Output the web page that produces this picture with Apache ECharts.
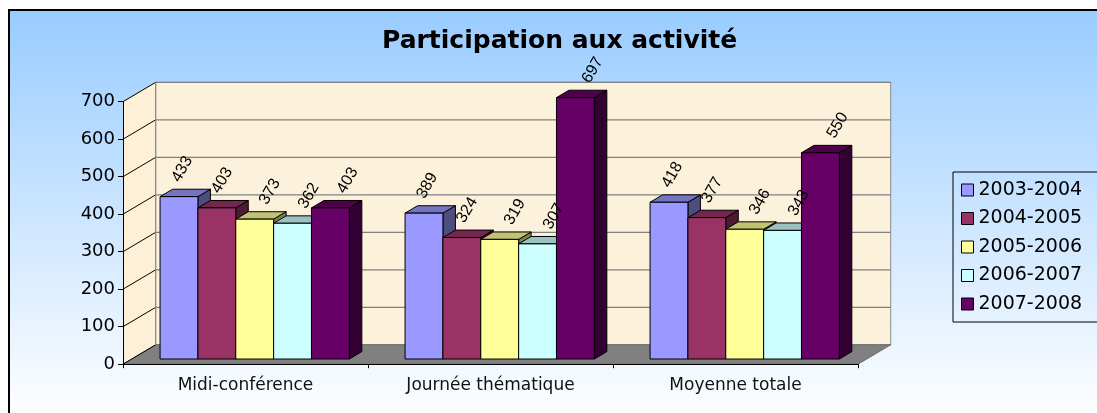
<!DOCTYPE html>
<html><head><meta charset="utf-8">
<script src="https://cdn.jsdelivr.net/npm/echarts@6/dist/echarts.min.js"></script>
<style>
html,body{margin:0;padding:0;background:#fff;width:1097px;height:413px;overflow:hidden;position:relative}
#frame{position:absolute;left:8px;top:9px;width:1300px;height:500px;border-top:2px solid #000;border-left:2px solid #000;background:linear-gradient(to bottom,#99CCFF 0px,#ffffff 410px)}
#chart{position:absolute;left:0;top:0;width:1097px;height:413px}
</style></head>
<body><div id="frame"></div><div id="chart"></div>
<script>
// ---- data ----
const categories = ['Midi-conférence', 'Journée thématique', 'Moyenne totale'];
const seriesNames = ['2003-2004', '2004-2005', '2005-2006', '2006-2007', '2007-2008'];
const s2003 = [433, 389, 418];
const s2004 = [403, 324, 377];
const s2005 = [373, 319, 346];
const s2006 = [362, 307, 343];
const s2007 = [403, 697, 550];
const yTicks = [0, 100, 200, 300, 400, 500, 600, 700];
const titleText = 'Participation aux activité';

// ---- style / layout constants ----
const colors = ['#9999FF', '#993366', '#FFFF99', '#CCFFFF', '#660066'];
const FONT = 'DejaVu Sans';
const WALL_DX = 32.7, WALL_DY = -19.4;   // depth of the wall box
const PLANE_DX = 9.2, PLANE_DY = -5.2;   // plane the bars stand on
const BAR_DX = 12.5, BAR_DY = -7.4;      // depth of each bar
const BAR_FRAC = 0.1545;                  // bar width as fraction of band
const GROUP_FRAC = BAR_FRAC * 5;
const LABEL_DX = [-3, -1, 9, 10, 11];
const LABEL_GAP = 20;

function shade(hex, f) {
  const n = parseInt(hex.slice(1), 16);
  const r = Math.round(((n >> 16) & 255) * f), g = Math.round(((n >> 8) & 255) * f), b = Math.round((n & 255) * f);
  return 'rgb(' + r + ',' + g + ',' + b + ')';
}

const allSeries = [s2003, s2004, s2005, s2006, s2007];

const wallSeries = {
  type: 'custom', coordinateSystem: 'cartesian2d', silent: true, data: [[0, 0]],
  renderItem: function (params, api) {
    const cs = params.coordSys;
    const xL = cs.x, xR = cs.x + cs.width;
    const y0 = api.coord([0, yTicks[0]])[1];
    const yT = api.coord([0, yTicks[yTicks.length - 1]])[1];
    const wall = '#FCF1DA';
    const children = [];
    children.push({ type: 'polygon', shape: { points: [[xL, yT], [xL + WALL_DX, yT + WALL_DY], [xL + WALL_DX, y0 + WALL_DY], [xL, y0]] },
      style: { fill: '#FDF0D6', stroke: null } });
    children.push({ type: 'polygon', shape: { points: [[xL + WALL_DX, yT + WALL_DY], [xR + WALL_DX, yT + WALL_DY], [xR + WALL_DX, y0 + WALL_DY], [xL + WALL_DX, y0 + WALL_DY]] },
      style: { fill: wall, stroke: '#8a8a8a', lineWidth: 1 } });
    children.push({ type: 'polygon', shape: { points: [[xL, y0], [xR, y0], [xR + WALL_DX, y0 + WALL_DY], [xL + WALL_DX, y0 + WALL_DY]] },
      style: { fill: '#808080', stroke: '#6a6a6a', lineWidth: 1 } });
    yTicks.forEach(function (t) {
      const y = api.coord([0, t])[1];
      if (t > 0) {
        children.push({ type: 'line', shape: { x1: xL + WALL_DX, y1: y + WALL_DY, x2: xR + WALL_DX, y2: y + WALL_DY }, style: { stroke: '#808080', lineWidth: 1.2 } });
      }
      children.push({ type: 'line', shape: { x1: xL, y1: y, x2: xL + WALL_DX, y2: y + WALL_DY }, style: { stroke: '#000', lineWidth: 1 } });
    });
    children.push({ type: 'line', shape: { x1: xL + WALL_DX, y1: yT + WALL_DY, x2: xL + WALL_DX, y2: y0 + WALL_DY }, style: { stroke: '#8a8a8a', lineWidth: 1 } });
    return { type: 'group', children: children };
  }
};

function makeBarSeries(idx) {
  const col = colors[idx];
  return {
    type: 'custom', name: seriesNames[idx], coordinateSystem: 'cartesian2d',
    itemStyle: { color: col, borderColor: '#000', borderWidth: 1 },
    data: allSeries[idx].map(function (v, i) { return [i, v]; }),
    renderItem: function (params, api) {
      const ci = api.value(0), v = api.value(1);
      const c = api.coord([ci, 0]);
      const tp = api.coord([ci, v]);
      const bw = api.size([1, 0])[0];
      const barW = bw * BAR_FRAC;
      const x0 = c[0] - bw * GROUP_FRAC / 2 + PLANE_DX + idx * barW;
      const x1 = x0 + barW;
      const yb = c[1] + PLANE_DY;
      const yt = tp[1] + PLANE_DY;
      const side = { type: 'polygon', shape: { points: [[x1, yb], [x1 + BAR_DX, yb + BAR_DY], [x1 + BAR_DX, yt + BAR_DY], [x1, yt]] },
        style: { fill: shade(col, 0.5), stroke: '#000', lineWidth: 1 } };
      const top = { type: 'polygon', shape: { points: [[x0, yt], [x1, yt], [x1 + BAR_DX, yt + BAR_DY], [x0 + BAR_DX, yt + BAR_DY]] },
        style: { fill: shade(col, 0.76), stroke: '#000', lineWidth: 1 } };
      const front = { type: 'polygon', shape: { points: [[x0, yb], [x1, yb], [x1, yt], [x0, yt]] },
        style: { fill: col, stroke: '#000', lineWidth: 1 } };
      const label = { type: 'text', z2: 100,
        x: (x0 + x1) / 2 + BAR_DX / 2 + LABEL_DX[idx], y: yt + BAR_DY - LABEL_GAP,
        rotation: 60 * Math.PI / 180,
        style: { text: String(v), fill: '#000', fontSize: 16, fontFamily: 'Liberation Sans', align: 'center', verticalAlign: 'middle' } };
      return { type: 'group', children: [side, top, front, label] };
    }
  };
}

const chart = echarts.init(document.getElementById('chart'), null, { renderer: 'canvas' });
chart.setOption({
  animation: false,
  backgroundColor: 'transparent',
  title: { text: titleText, left: 382, top: 29, padding: 0,
    textStyle: { fontFamily: FONT, fontWeight: 'bold', fontSize: 25, color: '#000' } },
  legend: {
    data: seriesNames, orient: 'vertical', left: 953, top: 172,
    padding: [8, 30, 8, 8], itemGap: 8.5, itemWidth: 12, itemHeight: 12,
    borderColor: '#000', borderWidth: 1, backgroundColor: 'transparent',
    icon: 'rect',
    itemStyle: { borderColor: '#000', borderWidth: 1 },
    textStyle: { fontFamily: FONT, fontSize: 19, color: '#000', lineHeight: 20 }
  },
  grid: { left: 123, top: 101.7, width: 735, height: 262.5, containLabel: false, outerBoundsMode: 'none' },
  xAxis: {
    type: 'category', data: categories, z: 10,
    axisLine: { lineStyle: { color: '#000', width: 1 } },
    axisTick: { show: true, length: 4, lineStyle: { color: '#000' } },
    axisLabel: { fontFamily: FONT, fontSize: 17, color: '#111', margin: 13 },
    splitLine: { show: false }
  },
  yAxis: {
    type: 'value', min: 0, max: 700, interval: 100, z: 10,
    axisLine: { show: true, lineStyle: { color: '#000', width: 1 } },
    axisTick: { show: true, length: 5, lineStyle: { color: '#000' } },
    axisLabel: { fontFamily: FONT, fontSize: 18, color: '#000', margin: 8 },
    splitLine: { show: false }
  },
  series: [wallSeries].concat([0, 1, 2, 3, 4].map(makeBarSeries))
});
</script>
</body></html>
